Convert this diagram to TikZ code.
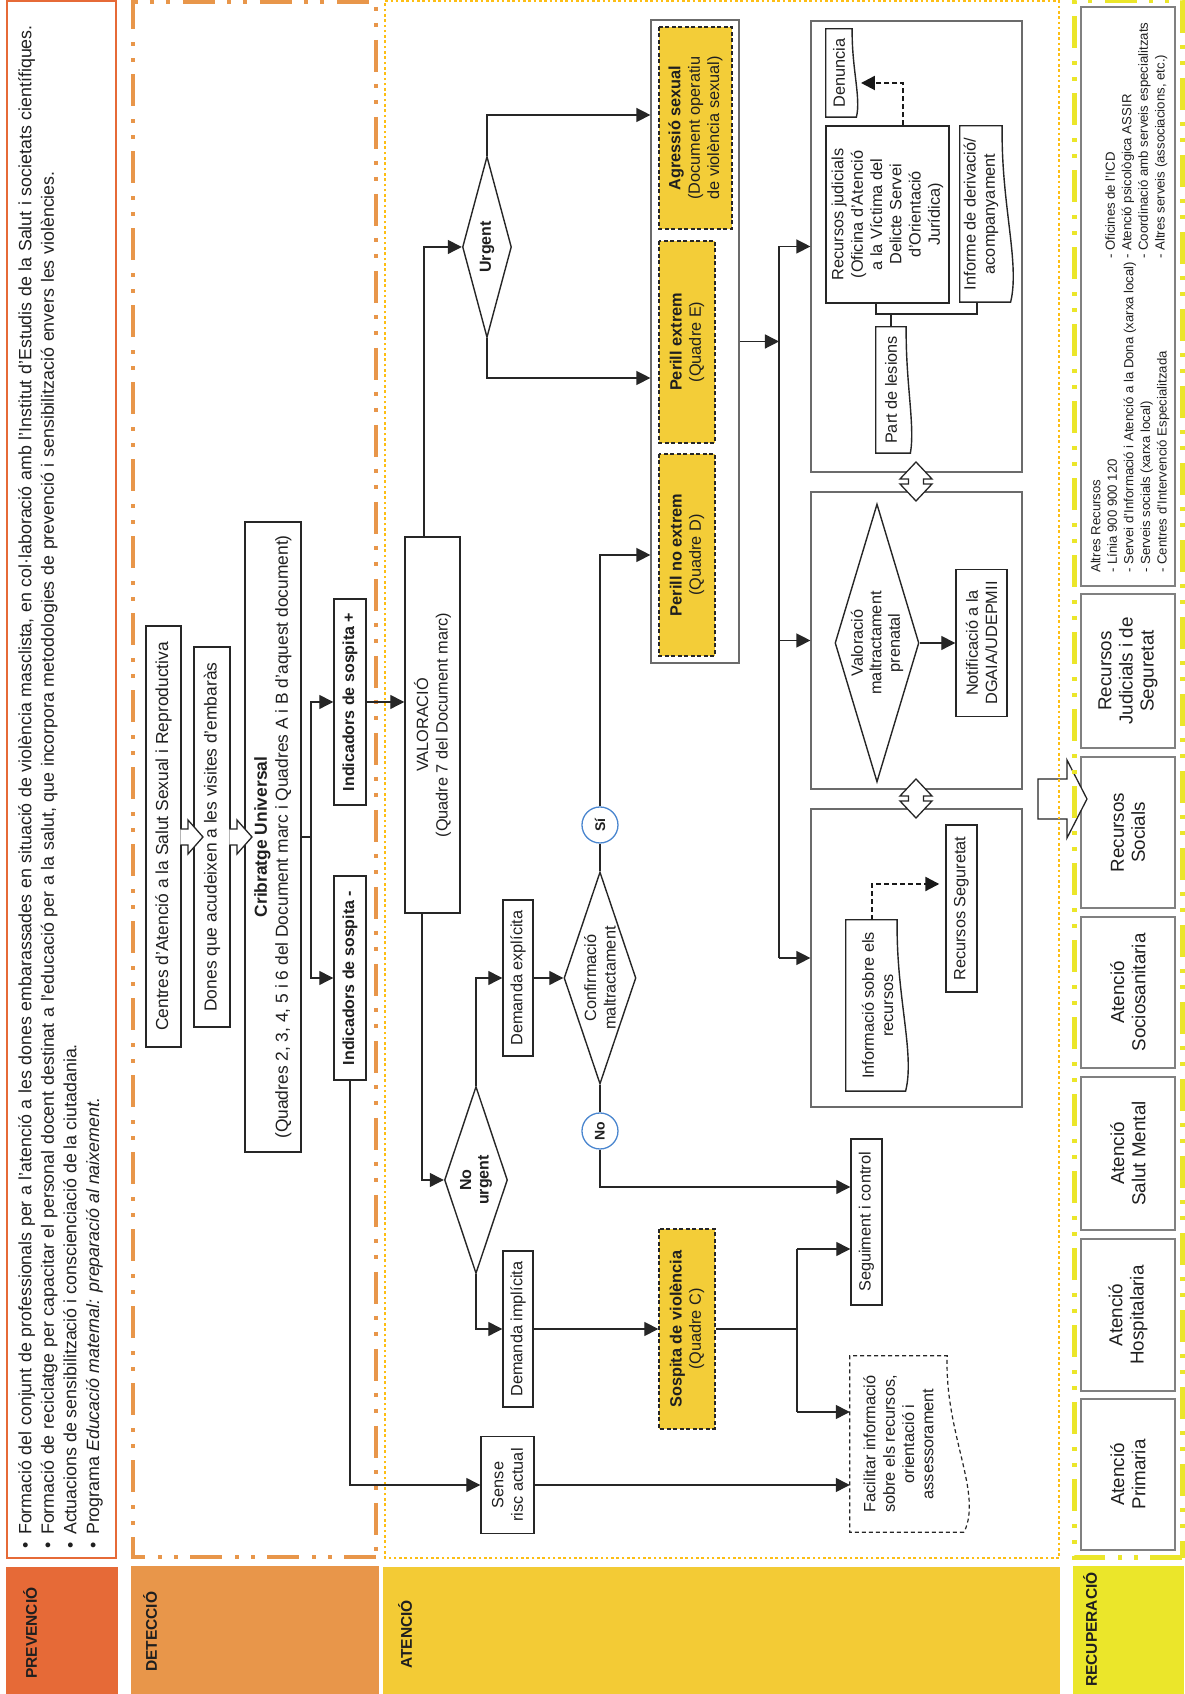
\documentclass[tikz,border=0pt]{standalone}
\usepackage{fontspec}
\setmainfont{Liberation Sans}
\usetikzlibrary{arrows.meta,shapes.geometric,calc}
\definecolor{prevcol}{HTML}{E66A37}
\definecolor{detcol}{HTML}{E8964A}
\definecolor{atencol}{HTML}{F3CB35}
\definecolor{atendot}{HTML}{FDBE14}
\definecolor{recucol}{HTML}{EBE62A}
\definecolor{ycol}{HTML}{F3CD38}
\definecolor{circblue}{HTML}{4A86CF}
\newcommand\myfs[2]{\fontsize{#1}{#2}\selectfont}
\newcommand\docshape[4][]{%
  \draw[docline,#1] ($(#2.south west)+(0,#3-0.7*#4)$) -- (#2.north west) -- (#2.north east)
    -- ($(#2.south east)+(0,#3)$)
    .. controls ($(#2.south east)!0.44!(#2.south west)+(0,#3+0.12*#4)$)
    and ($(#2.south west)!0.22!(#2.south east)+(0,#3-1.5*#4)$)
    .. ($(#2.south west)+(0,#3-0.7*#4)$) -- cycle;}
\newcommand\dblarrow[2]{%
  \filldraw[hollow] ({#1-19.5},{#2}) -- ({#1-2.5},{#2+16}) -- ({#1-2.5},{#2+7.5}) -- ({#1+2.5},{#2+7.5})
   -- ({#1+2.5},{#2+16}) -- ({#1+19.5},{#2}) -- ({#1+2.5},{#2-16}) -- ({#1+2.5},{#2-7.5})
   -- ({#1-2.5},{#2-7.5}) -- ({#1-2.5},{#2-16}) -- cycle;}
\begin{document}
\begin{tikzpicture}[x=1pt,y=1pt,
  every node/.style={text=black!88},
  dbox/.style={draw=black!85, line width=1.4pt, fill=white, inner sep=2pt, align=center, font=\myfs{17.4}{21}},
  abox/.style={draw=black!85, line width=1.4pt, fill=white, inner sep=2pt, align=center, font=\myfs{16.3}{19.3}},
  ybox/.style={draw=black!85, line width=1.3pt, dash pattern=on 4pt off 2.5pt, fill=ycol, inner sep=2pt, align=center, font=\myfs{16.3}{19.3}},
  grp/.style={draw=black!58, line width=1.2pt, fill=white, inner sep=0pt},
  rbox/.style={draw=black!50, line width=1.2pt, fill=white, inner sep=2pt, align=center, font=\myfs{18.8}{21.2}},
  docnode/.style={inner sep=2pt, align=center, font=\myfs{16.3}{19.3}},
  docline/.style={draw=black!85, line width=1.4pt},
  diam/.style={shape=diamond, draw=black!85, line width=1.4pt, fill=white, inner sep=0pt},
  dtext/.style={align=center, font=\myfs{16.3}{19}, inner sep=0pt},
  circ/.style={circle, draw=circblue, line width=1.3pt, fill=white, minimum size=36pt, inner sep=0pt, font=\bfseries\myfs{14}{16}},
  conn/.style={draw=black!85, line width=1.3pt},
  arr/.style={conn, -{Triangle[length=14pt,width=14pt]}},
  darr/.style={draw=black!90, line width=2.2pt, dash pattern=on 5pt off 3pt, -{Triangle[length=14pt,width=14pt]}},
  hollow/.style={fill=white, draw=black!85, line width=1.3pt, line join=miter},
  lab/.style={anchor=west, inner sep=0pt, font=\bfseries\myfs{15.5}{18}},
]
\begin{scope}[rotate=90,transform shape]
\useasboundingbox (0,0) rectangle (1694,1184);
\fill[white] (0,0) rectangle (1694,1184);
% ---------- band labels
\fill[prevcol] (0,1066) rectangle (127,1178);
\fill[detcol] (0,805) rectangle (128,1053);
\fill[atencol] (0,124) rectangle (127,801);
\fill[recucol] (0,0) rectangle (128,111);
\node[lab] (lprev) at (15,1154) {PREVENCIÓ};
\node[lab] (ldet) at (22,1034) {DETECCIÓ};
\node[lab] (laten) at (25,779) {ATENCIÓ};
\node[lab] (lrecu) at (7,94) {RECUPERACIÓ};
% ---------- prevencio
\draw[prevcol, line width=1.5pt] (136,1068) rectangle (1693,1177);
\node[anchor=north west, inner sep=0pt, align=left, font=\myfs{17.8}{22.6}] (prevtext) at (145,1166) {%
\makebox[14pt][l]{\textbullet}{\spaceskip=5.6pt\relax Formació del conjunt de professionals per a l’atenció a les dones embarassades en situació de violència masclista, en col·laboració amb l’Institut d’Estudis de la Salut i societats científiques.}\\
\makebox[14pt][l]{\textbullet}{\spaceskip=5.7pt\relax Formació de reciclatge per capacitar el personal docent destinat a l’educació per a la salut, que incorpora metodologies de prevenció i sensibilització envers les violències.}\\
\makebox[14pt][l]{\textbullet}Actuacions de sensibilització i conscienciació de la ciutadania.\\
\makebox[14pt][l]{\textbullet}Programa \textit{Educació maternal: preparació al naixement.}};
% ---------- deteccio
\node[dbox, minimum width=421pt, minimum height=35pt] (centres) at (857.5,1020.5) {Centres d’Atenció a la Salut Sexual i Reproductiva};
\node[dbox, minimum width=380pt, minimum height=36pt] (dones) at (857,972) {Dones que acudeixen a les visites d’embaràs};
\node[dbox, minimum width=630pt, minimum height=56pt] (crib) at (857,911) {\textbf{Cribratge Universal}\\(Quadres 2, 3, 4, 5 i 6 del Document marc i Quadres A i B d’aquest document)};
\node[dbox, font=\bfseries\myfs{16}{19}, minimum width=206pt, minimum height=32pt] (indp) at (992,834) {Indicadors de sospita +};
\node[dbox, font=\bfseries\myfs{16}{19}, minimum width=204pt, minimum height=32pt] (indm) at (716,834) {Indicadors de sospita -};
% ---------- atencio : top part
\node[abox, minimum width=376pt, minimum height=55pt] (valor) at (969,751.5) {VALORACIÓ\\(Quadre 7 del Document marc)};
\node[diam, minimum width=181pt, minimum height=49pt, label={[dtext,font=\bfseries\myfs{16}{18}]center:Urgent}] (urgent) at (1447,697) {};
\node[grp, minimum width=643pt, minimum height=88pt] (group) at (1352.5,489) {};
\node[ybox, minimum width=202pt, minimum height=73pt] (agr) at (1566,488.5) {\textbf{Agressió sexual}\\(Document operatiu\\de violència sexual)};
\node[ybox, minimum width=202pt, minimum height=56pt] (pe) at (1352,497) {\textbf{Perill extrem}\\(Quadre E)};
\node[ybox, minimum width=202pt, minimum height=56pt] (pne) at (1139,497) {\textbf{Perill no extrem}\\(Quadre D)};
% boxes A B C
\node[grp, minimum width=451pt, minimum height=211pt] (boxA) at (1447.5,267.5) {};
\node[grp, minimum width=297pt, minimum height=211pt] (boxB) at (1053.5,267.5) {};
\node[grp, minimum width=298pt, minimum height=211pt] (boxC) at (736,267.5) {};
% box A content
\node[docnode, minimum width=88pt, minimum height=26pt] (den) at (1621,345) {Denuncia};
\docshape{den}{0}{6}
\node[abox, minimum width=177pt, minimum height=123pt] (jud) at (1479.5,296.5) {Recursos judicials\\(Oficina d’Atenció\\a la Víctima del\\Delicte Servei\\d’Orientació\\Jurídica)};
\node[docnode, minimum width=176pt, minimum height=42pt] (inf) at (1480,203) {Informe de derivació/\\acompanyament};
\docshape{inf}{0}{12}
\node[docnode, minimum width=126pt, minimum height=30pt] (lesions) at (1304,293) {Part de lesions};
\docshape{lesions}{0}{6}
% box B content
\node[diam, minimum width=278pt, minimum height=84pt, label={[dtext,font=\myfs{16.3}{18.5}]center:Valoració\\maltractament\\prenatal}] (prenatal) at (1051,307) {};
\node[abox, minimum width=147pt, minimum height=51pt] (notif) at (1051,202.5) {Notificació a la\\DGAIA/UDEPMII};
% box C content
\node[docnode, minimum width=171pt, minimum height=63pt] (info) at (688.5,306.5) {Informació sobre els\\recursos};
\docshape{info}{12}{12}
\node[abox, minimum width=167pt, minimum height=31pt] (segur) at (785.5,222.5) {Recursos Seguretat};
% ---------- atencio : lower part
\node[diam, minimum width=187pt, minimum height=63pt, label={[dtext,font=\bfseries\myfs{16}{17.5}]center:No\\urgent}] (nourg) at (514,708) {};
\node[abox, minimum width=156pt, minimum height=30pt] (dexp) at (716,666) {Demanda explícita};
\node[abox, minimum width=156pt, minimum height=30pt] (dimp) at (365,666) {Demanda implícita};
\node[diam, minimum width=212pt, minimum height=72pt, label={[dtext,font=\myfs{16.3}{19.5}]center:Confirmació\\maltractament}] (confirm) at (716,584) {};
\node[circ] (csi) at (869,584) {Sí};
\node[circ] (cno) at (563,584) {No};
\node[abox, minimum width=166pt, minimum height=31pt] (seg) at (472,317.5) {Seguiment i control};
\node[ybox, minimum width=200pt, minimum height=56pt] (sosp) at (365,497) {\textbf{Sospita de violència}\\(Quadre C)};
\node[abox, minimum width=97pt, minimum height=53pt] (sense) at (209,676.5) {Sense\\risc actual};
\node[docnode, minimum width=176pt, minimum height=97pt] (fac) at (250,285.5) {Facilitar informació\\sobre els recursos,\\orientació i\\assessorament};
\docshape[dash pattern=on 4pt off 3pt, line width=1.2pt]{fac}{0}{24}
% ---------- recuperacio
\node[rbox, minimum width=579pt, minimum height=94pt] (altres) at (1397.5,56) {};
\node[anchor=north west, inner sep=0pt, align=left, font=\myfs{13.2}{16.6}] (altres1) at (1121,93.5) {Altres Recursos\\- Línia 900 900 120\\- Servei d’Informació i Atenció a la Dona (xarxa local)\\- Serveis socials (xarxa local)\\- Centres d’Intervenció Especialitzada};
\node[anchor=north west, inner sep=0pt, align=left, font=\myfs{13.2}{16.6}] (altres2) at (1435,79) {- Oficines de l’ICD\\- Atenció psicològica ASSIR\\- Coordinació amb serveis especialitzats\\- Altres serveis (associacions, etc.)};
\node[rbox, minimum width=154pt, minimum height=94pt] (rjs) at (1023,56) {Recursos\\Judicials i de\\Seguretat};
\node[rbox, minimum width=151pt, minimum height=94pt] (rsoc) at (861.5,56) {Recursos\\Socials};
\node[rbox, minimum width=151pt, minimum height=94pt] (rsocs) at (701.5,56) {Atenció\\Sociosanitaria};
\node[rbox, minimum width=153pt, minimum height=94pt] (rsm) at (540.5,56) {Atenció\\Salut Mental};
\node[rbox, minimum width=152pt, minimum height=94pt] (rhos) at (379,56) {Atenció\\Hospitalaria};
\node[rbox, minimum width=151pt, minimum height=94pt] (rpri) at (219.5,56) {Atenció\\Primaria};
% big hollow arrow
\filldraw[hollow] (875,146) -- (915,146) -- (915,117) -- (934,117) -- (895,97) -- (856,117) -- (875,117) -- cycle;
% ---------- frames
\draw[detcol, line width=4pt, dash pattern=on 32pt off 12pt on 4pt off 12pt on 4pt off 13pt] (137,808) rectangle (1692,1051);
\draw[atendot, line width=2.6pt, dash pattern=on 2.6pt off 2.7pt] (136,125) rectangle (1693,799);
\draw[recucol, line width=5pt, dash pattern=on 32pt off 12pt on 4pt off 12pt on 4pt off 13pt] (136,2) rectangle (1693,109);
% ---------- connectors
\coordinate (cj) at (857,873);
\draw[conn] (crib.south) -- (cj);
\draw[arr] (cj) -| (indp.north);
\draw[arr] (cj) -| (indm.north);
\draw[arr] (indp.south) -- (indp.south |- valor.north);
\coordinate (v1) at (1447,760);
\draw[arr] (valor.east |- v1) -- (v1) -- (urgent.north);
\coordinate (u1) at (1579,697);
\coordinate (u2) at (1316,697);
\draw[arr] (urgent.east) -- (u1) -- (u1 |- group.north);
\draw[arr] (urgent.west) -- (u2) -- (u2 |- group.north);
\coordinate (tj) at (1352.5,405);
\coordinate (ta) at (1447.5,405);
\coordinate (tb) at (1053.5,405);
\coordinate (tc) at (736,405);
\draw[arr] (group.south) -- (tj);
\draw[conn] (ta) -- (tc);
\draw[arr] (ta) -- (boxA.north);
\draw[arr] (tb) -- (boxB.north);
\draw[arr] (tc) -- (boxC.north);
\coordinate (v2) at (514,762);
\draw[arr] (valor.west |- v2) -- (v2) -- (nourg.north);
\coordinate (n1) at (716,708);
\coordinate (n2) at (365,708);
\draw[arr] (nourg.east) -- (n1) -- (dexp.north);
\draw[arr] (nourg.west) -- (n2) -- (dimp.north);
\draw[arr] (dexp.south) -- (confirm.north);
\draw[conn] (confirm.east) -- (csi.west);
\coordinate (k1) at (1139,584);
\draw[arr] (csi.east) -- (k1) -- (k1 |- group.north);
\draw[conn] (confirm.west) -- (cno.east);
\coordinate (k2) at (507,584);
\draw[arr] (cno.west) -- (k2) -- (k2 |- seg.north);
\draw[arr] (dimp.south) -- (sosp.north);
\coordinate (s1) at (365,387);
\coordinate (s2) at (445,387);
\coordinate (s3) at (282,387);
\draw[conn] (sosp.south) -- (s1);
\draw[conn] (s2) -- (s3);
\draw[arr] (s2) -- (s2 |- seg.north);
\draw[arr] (s3) -- (s3 |- fac.north);
\coordinate (m1) at (209,834);
\draw[arr] (indm.west) -- (m1) -- (sense.north);
\draw[arr] (sense.south) -- (sense.south |- fac.north);
% box A connectors
\coordinate (j1) at (1611,281);
\coordinate (j2) at (1611,323);
\draw[darr] (jud.east |- j1) -- (j1) -- (j2);
\coordinate (b1) at (1380,308);
\coordinate (b2) at (1380,207);
\coordinate (b3) at (1380,293);
\draw[conn] (jud.west |- b1) -- (b1) -- (b2) -- (inf.west |- b2);
\draw[conn] (b3) -- (lesions.east);
% box B / C connectors
\draw[arr] (prenatal.south) -- (notif.north);
\coordinate (i1) at (810,312);
\draw[darr, shorten >=6pt] (info.east |- i1) -- (i1) -- (i1 |- segur.north);
% ---------- small hollow arrows
\filldraw[hollow] (849,1003.6) -- (849,996) -- (840,996) -- (857,981) -- (874,996) -- (865,996) -- (865,1003.6);
\filldraw[hollow] (849,954.6) -- (849,947) -- (840,947) -- (857,932) -- (874,947) -- (865,947) -- (865,954.6);
\dblarrow{1212.5}{268}
\dblarrow{895.5}{268}
\end{scope}
\end{tikzpicture}
\end{document}
